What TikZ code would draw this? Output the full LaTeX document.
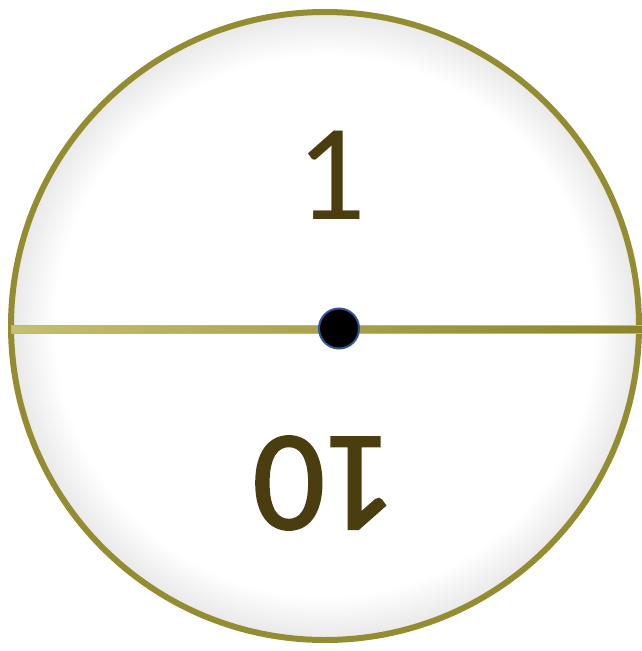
\documentclass[tikz,border=0pt]{standalone}
\usepackage{fontspec}
\setmainfont{Carlito}
\usepackage{tikz}
\usetikzlibrary{positioning, calc}
\definecolor{rimolive}{HTML}{948C30}
\definecolor{digitbrown}{HTML}{4A3E10}
\definecolor{dotblue}{HTML}{2F5597}
\definecolor{barleft}{HTML}{C6BF70}
\definecolor{barlight}{HTML}{EDE4AE}
\definecolor{bardark}{HTML}{8C8428}
\pgfdeclareradialshading{discshade}{\pgfpoint{0bp}{0bp}}{color(0bp)=(white); color(21.5bp)=(white); color(25bp)=(black!9); color(50bp)=(black!9)}

\begin{document}
\begin{tikzpicture}[x=0.75pt, y=-0.75pt, font=\fontsize{103}{110}\selectfont]
  \useasboundingbox (0,0) rectangle (642,651);

  % Kotouc
  \node[circle, inner sep=0pt, minimum size=471pt, shade, shading=discshade,
        draw=rimolive, line width=4.5pt] (disc) at (325,326) {};

  % Vodorovna pricka
  \coordinate (barend) at (642,329);
  \coordinate (barstart) at ($(disc.west |- barend)+(3,0)$);
  \shade[left color=barleft, middle color=barlight, right color=bardark,
         draw=black!30, line width=0.4pt]
    ($(barstart)+(0,-4)$) rectangle ($(barend)+(0,4)$);

  % Stredovy bod
  \node[circle, inner sep=0pt, minimum size=30pt, fill=black,
        draw=dotblue, line width=1.5pt] (hub) at (339,328.5) {};

  % Cislice
  \node[text=digitbrown, inner sep=0pt] (one) at (331,175) {1};
  \node[text=digitbrown, inner sep=0pt, rotate=180,
        font=\fontsize{107}{110}\selectfont\addfontfeature{FakeBold=1.6}] (ten) at (325,483) {10};
\end{tikzpicture}
\end{document}
